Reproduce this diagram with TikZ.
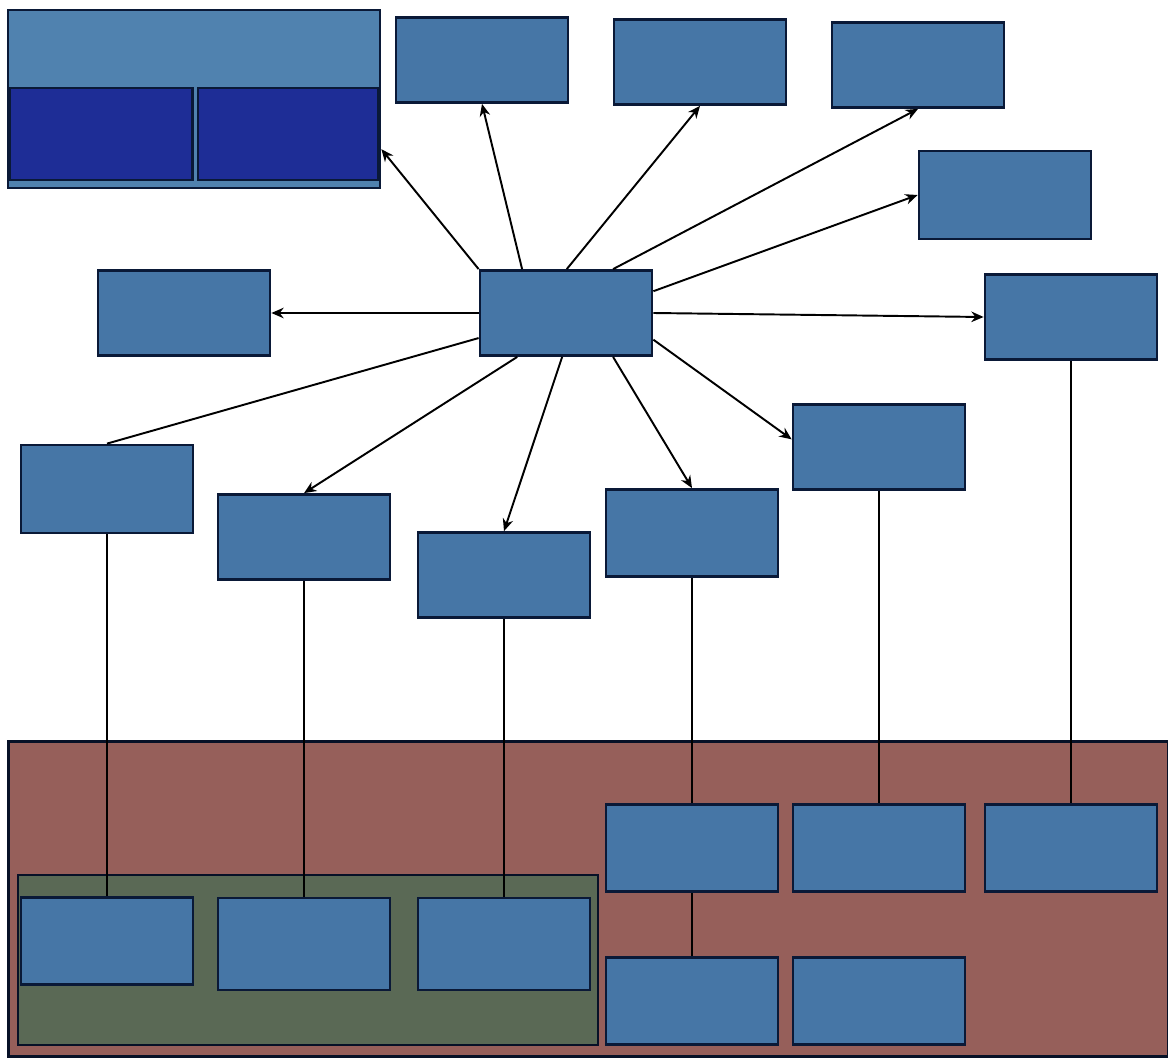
\documentclass[tikz,border=0pt]{standalone}
\usetikzlibrary{arrows.meta, positioning, fit, backgrounds}

\definecolor{boxblue}{RGB}{70,118,166}
\definecolor{boxedge}{RGB}{10,25,55}
\definecolor{topblue}{RGB}{80,130,175}
\definecolor{deepblue}{RGB}{30,45,150}
\definecolor{zonered}{RGB}{150,95,90}
\definecolor{zonegreen}{RGB}{90,105,85}

\begin{document}
\begin{tikzpicture}[x=0.02cm, y=-0.02cm,
  blk/.style={rectangle,draw=boxedge,line width=1.6pt,fill=boxblue, minimum width=3.44cm,minimum height=1.7cm,inner sep=0pt},
  sub/.style={rectangle,draw=boxedge,line width=1.2pt,fill=deepblue,inner sep=0pt},
  zone/.style={rectangle,draw=boxedge!70!black,line width=1.6pt,inner sep=0pt},
  arr/.style={-{Stealth[length=7pt,width=6pt]},line width=1.1pt,black},
  link/.style={line width=1.1pt,black}
]
  \useasboundingbox (0,0) rectangle (1168,1057);
  % lower zones
  \node[zone,fill=zonered,minimum width=23.2cm,minimum height=6.3cm] (repo) at (588,899) {};
  \node[zone,fill=zonegreen,minimum width=11.6cm,minimum height=3.4cm] (tools) at (308,960) {};
  % top left stack
  \node[rectangle,draw=boxedge,line width=1.6pt,fill=topblue,minimum width=7.44cm,minimum height=3.56cm,inner sep=0pt] (stack) at (194,99) {};
  \node[sub,minimum width=3.66cm,minimum height=1.84cm] (stackL) at (101,134) {};
  \node[sub,minimum width=3.6cm,minimum height=1.84cm] (stackR) at (288,134) {};
  % upper boxes
  \node[blk] (core)  at (566,313) {};
  \node[blk] (viewA) at (482,60) {};
  \node[blk] (viewB) at (700,62) {};
  \node[blk] (viewC) at (918,65) {};
  \node[blk,minimum height=1.76cm] (viewD) at (1005,195) {};
  \node[blk] (west)  at (184,313) {};
  \node[blk] (east)  at (1071,317) {};
  % middle row
  \node[blk,minimum height=1.76cm] (modA) at (107,489) {};
  \node[blk] (modB) at (304,537) {};
  \node[blk] (modC) at (504,575) {};
  \node[blk,minimum height=1.74cm] (modD) at (692,533) {};
  \node[blk] (modE) at (879,447) {};
  % inside the zones
  \node[blk,minimum height=1.74cm] (toolA) at (107,941) {};
  \node[blk,minimum height=1.84cm] (toolB) at (304,944) {};
  \node[blk,minimum height=1.84cm] (toolC) at (504,944) {};
  \node[blk,minimum height=1.74cm] (storeA) at (692,848) {};
  \node[blk,minimum height=1.74cm] (storeB) at (879,848) {};
  \node[blk,minimum height=1.74cm] (storeC) at (1071,848) {};
  \node[blk,minimum height=1.74cm] (storeD) at (692,1001) {};
  \node[blk,minimum height=1.74cm] (storeE) at (879,1001) {};
  % spokes
  \draw[arr] (core.north west) -- (stack.345);
  \draw[arr] (core.135) -- (viewA.south);
  \draw[arr] (core.89) -- (viewB.south);
  \draw[arr] (core.43) -- (viewC.south);
  \draw[arr] (core.14) -- (viewD.west);
  \draw[arr] (core.west) -- (west.east);
  \draw[arr] (core.east) -- (east.west);
  \draw[link] (core.196) -- (modA.north);
  \draw[arr] (core.222) -- (modB.north);
  \draw[arr] (core.265) -- (modC.north);
  \draw[arr] (core.317) -- (modD.north);
  \draw[arr] (core.343) -- (modE.175);
  % drops
  \draw[link] (modA.south) -- (toolA.north);
  \draw[link] (modB.south) -- (toolB.north);
  \draw[link] (modC.south) -- (toolC.north);
  \draw[link] (modD.south) -- (storeA.north);
  \draw[link] (storeA.south) -- (storeD.north);
  \draw[link] (modE.south) -- (storeB.north);
  \draw[link] (east.south) -- (storeC.north);
\end{tikzpicture}
\end{document}
